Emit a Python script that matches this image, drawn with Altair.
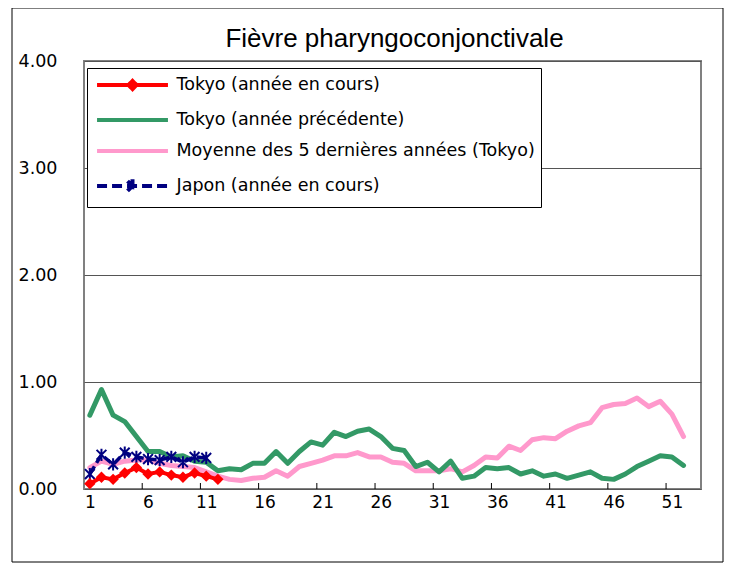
import altair as alt
import pandas as pd

# ---------------- data ----------------
title_text = "Fièvre pharyngoconjonctivale"

series_names = [
    "Tokyo (année en cours)",
    "Tokyo (année précédente)",
    "Moyenne des 5 dernières années (Tokyo)",
    "Japon (année en cours)",
]
series_colors = ["#FF0000", "#339966", "#FF99CC", "#000080"]

weeks_all = list(range(1, 53))

tokyo_current = [0.05, 0.11, 0.09, 0.15, 0.20, 0.14, 0.16, 0.13, 0.11, 0.15,
                 0.12, 0.09]

tokyo_previous = [0.69, 0.93, 0.69, 0.63, 0.49, 0.35, 0.35, 0.30, 0.31, 0.26,
                  0.25, 0.17, 0.19, 0.18, 0.24, 0.24, 0.35, 0.24, 0.35, 0.44,
                  0.41, 0.53, 0.49, 0.54, 0.56, 0.49, 0.38, 0.36, 0.21, 0.25,
                  0.16, 0.26, 0.10, 0.12, 0.20, 0.19, 0.20, 0.14, 0.17, 0.12,
                  0.14, 0.10, 0.13, 0.16, 0.10, 0.09, 0.14, 0.21, 0.26, 0.31,
                  0.30, 0.22]

tokyo_avg5 = [0.20, 0.26, 0.23, 0.26, 0.27, 0.27, 0.24, 0.22, 0.21, 0.20,
              0.16, 0.12, 0.09, 0.08, 0.10, 0.11, 0.17, 0.12, 0.21, 0.24,
              0.27, 0.31, 0.31, 0.34, 0.30, 0.30, 0.25, 0.24, 0.17, 0.17,
              0.17, 0.19, 0.16, 0.22, 0.30, 0.29, 0.40, 0.36, 0.46, 0.48,
              0.47, 0.54, 0.59, 0.62, 0.76, 0.79, 0.80, 0.85, 0.77, 0.82,
              0.70, 0.49]

japan_current = [0.14, 0.32, 0.23, 0.34, 0.30, 0.28, 0.27, 0.30, 0.25, 0.30,
                 0.29]

x_label_values = [1, 6, 11, 16, 21, 26, 31, 36, 41, 46, 51]
x_tick_bounds = [5.5, 10.5, 15.5, 20.5, 25.5, 30.5, 35.5, 40.5, 45.5, 50.5]
y_tick_values = [0, 1, 2, 3, 4]

# ---------------- styles ----------------
W, H = 617, 428
LABEL_FONT = "DejaVu Sans"
asterisk_path = "M-0.8,-0.8L0.8,0.8M-0.8,0.8L0.8,-0.8M0,-1V1"
legend_paths = [
    "M-3.94,0H3.94M0,-0.45L0.45,0L0,0.45L-0.45,0Z",
    "M-3.94,0H3.94",
    "M-3.94,0H3.94",
    "M-3.94,0H3.94M-0.55,-0.55L0.55,0.55M-0.55,0.55L0.55,-0.55M0,-0.75V0.75",
]
legend_dashes = [[1, 0], [1, 0], [1, 0], [10, 5]]


def frame(weeks, values):
    return pd.DataFrame({"semaine": weeks[: len(values)], "valeur": values})


df_cur = frame(weeks_all, tokyo_current)
df_prev = frame(weeks_all, tokyo_previous)
df_avg = frame(weeks_all, tokyo_avg5)
df_jp = frame(weeks_all, japan_current)
df_ticks = pd.DataFrame({"semaine": x_tick_bounds})
df_legend = pd.DataFrame({"serie": series_names,
                          "semaine": [None] * 4, "valeur": [None] * 4})
df_title = pd.DataFrame({"titre": [title_text]})
df_one = pd.DataFrame({"k": [0]})

xscale = alt.Scale(domain=[0.5, 53.5], nice=False, zero=False)
yscale = alt.Scale(domain=[0, 4], nice=False)
xaxis = alt.Axis(values=x_label_values, title=None, grid=False, ticks=False,
                 domain=False, labelPadding=5, labelFont=LABEL_FONT,
                 labelFontSize=17, labelColor="black")
yaxis = alt.Axis(values=y_tick_values, format=".2f", title=None, grid=True,
                 gridColor="#555555", gridWidth=1, ticks=False, domain=False,
                 labelPadding=27, labelFont=LABEL_FONT, labelFontSize=17.5,
                 labelColor="black")

X = alt.X("semaine:Q", scale=xscale, axis=xaxis)
Y = alt.Y("valeur:Q", scale=yscale, axis=yaxis)

border = alt.Chart(df_one).mark_rect(fillOpacity=0, stroke="black",
                                     strokeWidth=1).encode(
    x=alt.value(-72), x2=alt.value(639), y=alt.value(-53), y2=alt.value(501))

title = alt.Chart(df_title).mark_text(
    font="Liberation Sans", fontSize=26, color="black", align="center",
    baseline="alphabetic").encode(
    text="titre:N", x=alt.value(W / 2 + 2), y=alt.value(-14))

pink = alt.Chart(df_avg).mark_line(color=series_colors[2], strokeWidth=5,
                                   strokeJoin="round", strokeCap="round").encode(x=X, y=Y)
green = alt.Chart(df_prev).mark_line(color=series_colors[1], strokeWidth=5,
                                     strokeJoin="round", strokeCap="round").encode(x=X, y=Y)
jp_line = alt.Chart(df_jp).mark_line(color=series_colors[3], strokeWidth=3.5,
                                     strokeDash=[9, 4]).encode(x=X, y=Y)
jp_pts = alt.Chart(df_jp).mark_point(shape=asterisk_path, filled=False,
                                     color=series_colors[3], strokeWidth=2,
                                     size=150, opacity=1).encode(x=X, y=Y)
red_line = alt.Chart(df_cur).mark_line(color=series_colors[0], strokeWidth=4,
                                       strokeJoin="round").encode(x=X, y=Y)
red_pts = alt.Chart(df_cur).mark_point(shape="diamond", filled=True,
                                       color=series_colors[0], size=130,
                                       opacity=1).encode(x=X, y=Y)

ticks = alt.Chart(df_ticks).mark_rule(color="black", strokeWidth=1).encode(
    x=X, y=alt.value(H - 6), y2=alt.value(H))

leg = alt.Legend(orient="none", legendX=3, legendY=7, title=None,
                 fillColor="white", strokeColor="black", padding=6,
                 symbolSize=324, symbolStrokeWidth=4, symbolOffset=28.5,
                 labelOffset=33, labelLimit=500, rowPadding=11,
                 labelFont=LABEL_FONT, labelFontSize=17.5, labelColor="black")

legend_layer = alt.Chart(df_legend).mark_point(filled=False, strokeWidth=4,
                                               opacity=1).encode(
    x=X, y=Y,
    color=alt.Color("serie:N", scale=alt.Scale(domain=series_names,
                                               range=series_colors), legend=leg),
    shape=alt.Shape("serie:N", scale=alt.Scale(domain=series_names,
                                               range=legend_paths), legend=leg),
    strokeDash=alt.StrokeDash("serie:N", scale=alt.Scale(domain=series_names,
                                                         range=legend_dashes), legend=leg),
)

chart = alt.layer(
    border, title, pink, green, jp_line, jp_pts, red_line, red_pts, ticks,
    legend_layer
).properties(
    width=W, height=H,
    autosize=alt.AutoSizeParams(type="none"),
    padding={"left": 76, "top": 53, "right": 23, "bottom": 74},
    background="white",
).configure_view(stroke="#808080", strokeWidth=2)

chart.save("out.html", embed_options={"renderer": "svg", "actions": False})
